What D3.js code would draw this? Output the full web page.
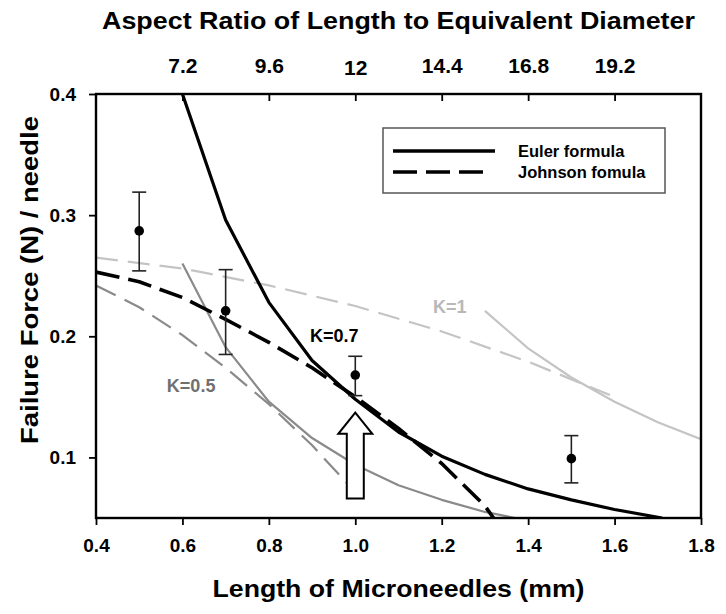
<!DOCTYPE html>
<html>
<head>
<meta charset="utf-8">
<script src="https://cdn.jsdelivr.net/npm/d3@7"></script>
<style>
  html, body { margin: 0; padding: 0; background: #fff; }
  svg { display: block; font-family: "Liberation Sans", Arial, sans-serif; font-weight: bold; }
</style>
</head>
<body>
<svg id="chart" width="726" height="614"></svg>
<script>
// ---- Data ----
const xTickValues = [0.4, 0.6, 0.8, 1.0, 1.2, 1.4, 1.6, 1.8];
const yTickValues = [0.1, 0.2, 0.3, 0.4];
const topTickPositions = [0.6, 0.8, 1.0, 1.2, 1.4, 1.6];
const topTickLabels = ["7.2", "9.6", "12", "14.4", "16.8", "19.2"];

const pointLength = [0.5, 0.7, 1.0, 1.5];
const pointForce  = [0.287, 0.221, 0.168, 0.099];
const errUpper    = [0.319, 0.255, 0.1835, 0.118];
const errLower    = [0.254, 0.185, 0.151, 0.079];

// K = 0.7 (black)
const eulerLength   = [0.6, 0.7, 0.8, 0.9, 1.0, 1.1, 1.2, 1.3, 1.4, 1.5, 1.6, 1.71];
const eulerForce    = [0.400, 0.296, 0.228, 0.180, 0.148, 0.121, 0.101, 0.086, 0.074, 0.065, 0.057, 0.050];
const johnsonLength = [0.4, 0.5, 0.6, 0.7, 0.8, 0.9, 1.0, 1.1, 1.2, 1.3, 1.32];
const johnsonForce  = [0.253, 0.245, 0.232, 0.214, 0.195, 0.174, 0.150, 0.124, 0.095, 0.060, 0.050];

// K = 1 (light grey)
const k1JohnsonLength = [0.4, 0.6, 0.8, 1.0, 1.2, 1.4, 1.6];
const k1JohnsonForce  = [0.265, 0.256, 0.242, 0.225, 0.204, 0.179, 0.150];
const k1EulerLength   = [1.3, 1.4, 1.5, 1.6, 1.7, 1.8];
const k1EulerForce    = [0.221, 0.190, 0.166, 0.146, 0.129, 0.115];

// K = 0.5 (grey)
const k05JohnsonLength = [0.4, 0.5, 0.6, 0.7, 0.8, 0.9, 0.98];
const k05JohnsonForce  = [0.242, 0.224, 0.201, 0.174, 0.144, 0.110, 0.079];
const k05EulerLength   = [0.6, 0.7, 0.8, 0.9, 1.0, 1.1, 1.2, 1.3, 1.37];
const k05EulerForce    = [0.260, 0.191, 0.146, 0.116, 0.094, 0.077, 0.065, 0.055, 0.050];

const legendLabels = ["Euler formula", "Johnson fomula"];

// ---- Layout ----
const W = 726, H = 614;
const margin = { top: 94, right: 25, bottom: 96, left: 96 };
const svg = d3.select("#chart");

const x = d3.scaleLinear().domain([0.4, 1.8]).range([margin.left, W - margin.right]);
const y = d3.scaleLinear().domain([0.05, 0.4]).range([H - margin.bottom, margin.top]);

svg.append("defs").append("clipPath").attr("id", "plotclip")
  .append("rect")
  .attr("x", x(0.4)).attr("y", y(0.4))
  .attr("width", x(1.8) - x(0.4)).attr("height", y(0.05) - y(0.4));

const zip = (xs, ys) => xs.map((v, i) => [v, ys[i]]);
const line = d3.line().x(d => x(d[0])).y(d => y(d[1]));

const curves = svg.append("g").attr("clip-path", "url(#plotclip)");

const series = [
  { xs: k1JohnsonLength, ys: k1JohnsonForce, color: "#c4c4c4", width: 2.2, dash: "22,10" },
  { xs: k1EulerLength, ys: k1EulerForce, color: "#c4c4c4", width: 2.2, dash: null },
  { xs: k05JohnsonLength, ys: k05JohnsonForce, color: "#8a8a8a", width: 2.2, dash: "22,10" },
  { xs: k05EulerLength, ys: k05EulerForce, color: "#8a8a8a", width: 2.2, dash: null },
  { xs: johnsonLength, ys: johnsonForce, color: "#000", width: 3.6, dash: "24,9" },
  { xs: eulerLength, ys: eulerForce, color: "#000", width: 3.2, dash: null }
];
series.forEach(s => {
  curves.append("path")
    .datum(zip(s.xs, s.ys))
    .attr("d", line)
    .attr("fill", "none")
    .attr("stroke", s.color)
    .attr("stroke-width", s.width)
    .attr("stroke-dasharray", s.dash)
    .attr("stroke-linejoin", "round");
});

// ---- Error bars & points ----
const pts = svg.append("g");
pointLength.forEach((L, i) => {
  const cx = x(L);
  pts.append("line").attr("x1", cx).attr("x2", cx)
    .attr("y1", y(errUpper[i])).attr("y2", y(errLower[i]))
    .attr("stroke", "#222").attr("stroke-width", 1.6);
  [errUpper[i], errLower[i]].forEach(v => {
    pts.append("line").attr("x1", cx - 7).attr("x2", cx + 7)
      .attr("y1", y(v)).attr("y2", y(v))
      .attr("stroke", "#222").attr("stroke-width", 1.6);
  });
  pts.append("circle").attr("cx", cx).attr("cy", y(pointForce[i])).attr("r", 4.8).attr("fill", "#000");
});

// ---- Arrow annotation (hollow, pointing up at L = 1.0) ----
{
  const ax = x(1.0);
  const tip = y(0.137), headBase = y(0.1195), bottom = y(0.066);
  const hw = 17, sw = 8.5;
  const p = d3.path();
  p.moveTo(ax, tip);
  p.lineTo(ax + hw, headBase);
  p.lineTo(ax + sw, headBase);
  p.lineTo(ax + sw, bottom);
  p.lineTo(ax - sw, bottom);
  p.lineTo(ax - sw, headBase);
  p.lineTo(ax - hw, headBase);
  p.closePath();
  svg.append("path").attr("d", p.toString())
    .attr("fill", "#fff").attr("stroke", "#000").attr("stroke-width", 2)
    .attr("stroke-linejoin", "miter");
}

// ---- K labels ----
const kLabels = [
  { text: "K=0.7", L: 0.895, F: 0.195, color: "#000" },
  { text: "K=0.5", L: 0.564, F: 0.154, color: "#707070" },
  { text: "K=1",   L: 1.18,  F: 0.219, color: "#b8b8b8" }
];
kLabels.forEach(k => {
  svg.append("text").attr("x", x(k.L)).attr("y", y(k.F))
    .attr("fill", k.color).attr("font-size", 18).text(k.text);
});

// ---- Axes ----
const axisStyle = g => {
  g.selectAll(".domain").remove();
  g.selectAll(".tick line").attr("stroke", "#000").attr("stroke-width", 1.8);
  g.selectAll(".tick text").attr("fill", "#000").attr("font-family", "Liberation Sans, Arial, sans-serif")
    .attr("font-weight", "bold");
};

svg.append("g")
  .attr("transform", `translate(0,${y(0.05)})`)
  .call(d3.axisBottom(x).tickValues(xTickValues).tickFormat(d3.format(".1f")).tickSizeInner(7).tickSizeOuter(0).tickPadding(14))
  .call(axisStyle)
  .call(g => g.selectAll(".tick text").attr("font-size", 19));

svg.append("g")
  .attr("transform", `translate(${x(0.4)},0)`)
  .call(d3.axisLeft(y).tickValues(yTickValues).tickFormat(d3.format(".1f")).tickSizeInner(7).tickSizeOuter(0).tickPadding(13))
  .call(axisStyle)
  .call(g => g.selectAll(".tick text").attr("font-size", 19));

svg.append("g")
  .attr("transform", `translate(0,${y(0.4)})`)
  .call(d3.axisTop(x).tickValues(topTickPositions)
    .tickFormat((d, i) => topTickLabels[i]).tickSizeInner(-7).tickSizeOuter(0).tickPadding(21))
  .call(axisStyle)
  .call(g => g.selectAll(".tick text").attr("font-size", 21)
    .attr("dy", (d, i) => topTickLabels[i] === "12" ? "2" : "0"));

// Frame
svg.append("rect")
  .attr("x", x(0.4)).attr("y", y(0.4))
  .attr("width", x(1.8) - x(0.4)).attr("height", y(0.05) - y(0.4))
  .attr("fill", "none").attr("stroke", "#000").attr("stroke-width", 2.4);

// ---- Titles ----
const cxPlot = (x(0.4) + x(1.8)) / 2;
svg.append("text").attr("x", cxPlot).attr("y", 29)
  .attr("text-anchor", "middle").attr("font-size", 23.5)
  .attr("textLength", 593).attr("lengthAdjust", "spacingAndGlyphs")
  .text("Aspect Ratio of Length to Equivalent Diameter");

svg.append("text").attr("x", cxPlot).attr("y", 597)
  .attr("text-anchor", "middle").attr("font-size", 23.5)
  .attr("textLength", 372).attr("lengthAdjust", "spacingAndGlyphs")
  .text("Length of Microneedles (mm)");

svg.append("text")
  .attr("transform", `translate(38,280) rotate(-90)`)
  .attr("text-anchor", "middle").attr("font-size", 23.5)
  .attr("textLength", 328).attr("lengthAdjust", "spacingAndGlyphs")
  .text("Failure Force (N) / needle");

// ---- Legend ----
const lg = svg.append("g").attr("transform", "translate(383,128)");
lg.append("rect").attr("width", 282).attr("height", 65)
  .attr("fill", "#fff").attr("stroke", "#555").attr("stroke-width", 1.5);
const legendDash = [null, "24,9"];
legendLabels.forEach((lab, i) => {
  const ly = 23 + i * 21;
  lg.append("line").attr("x1", 10).attr("x2", i === 0 ? 112 : 102)
    .attr("y1", ly).attr("y2", ly)
    .attr("stroke", "#000").attr("stroke-width", 3.6)
    .attr("stroke-dasharray", legendDash[i]);
  lg.append("text").attr("x", 135).attr("y", ly + 6)
    .attr("font-size", 16.5).text(lab);
});
</script>
</body>
</html>
